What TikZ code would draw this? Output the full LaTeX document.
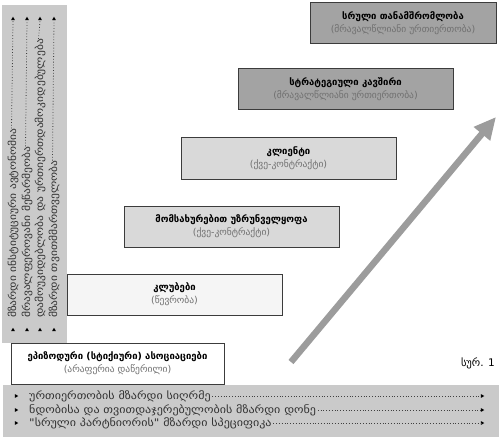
\documentclass[tikz,border=0pt]{standalone}
\usepackage{fontspec}
\setmainfont{DejaVu Sans}
\newfontfamily\widefont[FakeStretch=1.15]{DejaVu Sans}
\usetikzlibrary{arrows.meta,shapes.geometric}
\definecolor{panel}{HTML}{CACACA}
\definecolor{edge}{HTML}{3C3C3C}
\definecolor{sub}{HTML}{707070}
\definecolor{arr}{HTML}{9C9C9C}
\tikzset{
  stage/.style={draw=edge,line width=1pt,minimum height=41pt,inner sep=0pt,align=center,font=\fontsize{9.5}{14}\selectfont},
  vtext/.style={rotate=90,anchor=west,inner sep=0pt,font=\widefont\fontsize{10}{10}\selectfont,text=black!80},
  htext/.style={anchor=west,inner sep=0pt,font=\widefont\fontsize{10.5}{11}\selectfont,text=black!80},
  tri/.style={regular polygon,regular polygon sides=3,fill=black,inner sep=0pt,minimum size=4.5pt},
  dots/.style={dotted,line width=0.8pt,black!75},
}
\newcommand{\stagetext}[2]{\textbf{#1}\\[-1pt]{\color{sub}#2}}
\begin{document}
\begin{tikzpicture}[x=1pt,y=-1pt]
\useasboundingbox (0,0) rectangle (500,441);
% panels
\fill[panel] (2,5) rectangle (67,343);
\fill[panel] (3,385) rectangle (499,437);
% vertical labels
\foreach \i/\x/\t in {1/13/{მზარდი ინსტიტუციური ავტონომია},2/27/{მრავალფეროვანი მეწარმეობა},3/40/{დამოუკიდებლობა და ურთიერთდამოკიდებულება},4/54/{მზარდი თვითმმართველობა}}{
  \node[tri] (vt\i) at (\x,19) {};
  \node[tri] (vb\i) at (\x,330) {};
  \node[vtext] (vl\i) at (\x,318) {\t};
  \draw[dots] ([xshift=-1.5pt]vl\i.east) -- (vt\i.south);
}
% horizontal labels
\foreach \i/\y/\t in {1/396/{ურთიერთობის მზარდი სიღრმე},2/410/{ნდობისა და თვითდაჯერებულობის მზარდი დონე},3/423/{"სრული პარტნიორის" მზარდი სპეციფიკა}}{
  \node[tri,regular polygon rotate=-90] (hl\i) at (16,\y) {};
  \node[tri,regular polygon rotate=-90] (hr\i) at (482,\y) {};
  \node[htext] (hx\i) at (29,\y) {\t};
  \draw[dots] ([xshift=1.5pt]hx\i.east) -- (hr\i.west);
}
% stages
\node[stage,fill=white,minimum width=213pt] (s1) at (117.5,363.5) {\stagetext{ეპიზოდური (სტიქიური) ასოციაციები}{(არაფერია დაწერილი)}};
\node[stage,fill=black!4,minimum width=215pt] (s2) at (174.5,294.5) {\stagetext{კლუბები}{(წევრობა)}};
\node[stage,fill=black!15,minimum width=215pt] (s3) at (231.5,226.5) {\stagetext{მომსახურებით უზრუნველყოფა}{(ქვე-კონტრაქტი)}};
\node[stage,fill=black!15,minimum width=215pt,minimum height=42pt] (s4) at (288.5,158) {\stagetext{კლიენტი}{(ქვე-კონტრაქტი)}};
\node[stage,fill=black!36,minimum width=215pt] (s5) at (345.5,89.5) {\stagetext{სტრატეგიული კავშირი}{(მრავალწლიანი ურთიერთობა)}};
\node[stage,fill=black!36,minimum width=186pt] (s6) at (403,23.5) {\stagetext{სრული თანამშრომლობა}{(მრავალწლიანი ურთიერთობა)}};
% arrow
\coordinate (a0) at (291,362);
\coordinate (a1) at (496,117);
\draw[arr,line width=6.5pt,-{Triangle[width=20pt,length=22pt]}] (a0) -- (a1);
% figure label
\node[anchor=east,inner sep=0pt,font=\fontsize{10.5}{12}\selectfont] (fig) at (495,363) {სურ. 1};
\end{tikzpicture}
\end{document}
